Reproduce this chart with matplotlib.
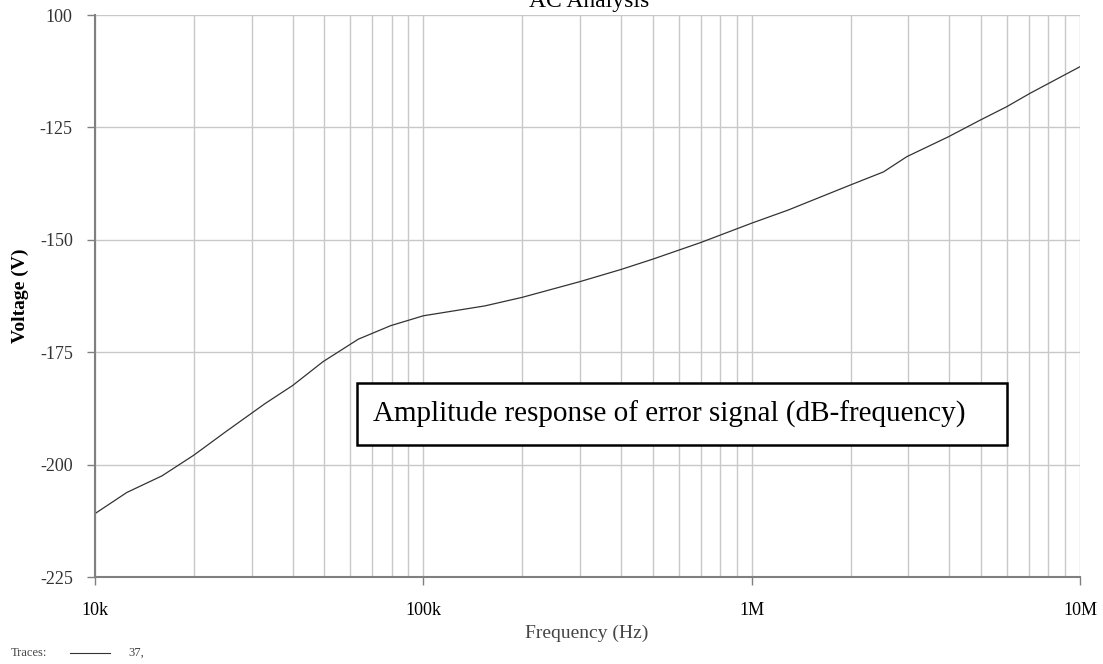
import numpy as np
import matplotlib.pyplot as plt
from matplotlib.ticker import FixedLocator, LogLocator, NullFormatter

# error signal magnitude vs frequency
freq = [10e3, 12.5e3, 16e3, 20e3, 25e3, 33e3, 40e3, 49.5e3, 63.4e3, 79.5e3,
        100e3, 154e3, 200e3, 300e3, 400e3, 500e3, 700e3, 1e6, 1.29e6, 2e6,
        2.52e6, 2.97e6, 3.97e6, 4.96e6, 5.98e6, 7.05e6, 10e6]
volt = [-210.9, -206.2, -202.5, -197.9, -192.7, -186.4, -182.4, -177.1, -172.1, -169.1,
        -166.9, -164.7, -162.8, -159.3, -156.6, -154.3, -150.6, -146.3, -143.4, -137.8,
        -134.9, -131.5, -127.1, -123.4, -120.4, -117.4, -111.5]

y_ticks = [-100, -125, -150, -175, -200, -225]
y_labels = ['100', '-125', '-150', '-175', '-200', '-225']
x_ticks = [1e4, 1e5, 1e6, 1e7]
x_labels = ['10k', '100k', '1M', '10M']

serif = 'Liberation Serif'
grid_c = '#c8c8c8'

fig = plt.figure(figsize=(11.03, 6.64), dpi=100)
ax = fig.add_axes([95/1103, 1-577/664, 985/1103, 562/664])

ax.plot(freq, volt, color='#333333', lw=0.9)
ax.set_xscale('log')
ax.set_xlim(1e4, 1e7)
ax.set_ylim(-225, -100)

ax.xaxis.set_major_locator(FixedLocator(x_ticks))
ax.xaxis.set_minor_locator(LogLocator(base=10, subs=np.arange(2, 10)))
ax.xaxis.set_minor_formatter(NullFormatter())
ax.set_xticks(x_ticks)
ax.set_xticklabels(x_labels, fontfamily=serif, fontsize=13)
ax.set_yticks(y_ticks)
ax.set_yticklabels(y_labels, fontfamily=serif, fontsize=13, color='#333333')

ax.grid(True, which='major', color=grid_c, lw=1.0)
ax.grid(True, which='minor', axis='x', color=grid_c, lw=1.0)
ax.tick_params(axis='both', which='major', length=6, width=1, color='#808080', pad=10)
ax.tick_params(axis='x', which='minor', length=0)
ax.tick_params(axis='x', pad=12)

for side in ['top', 'right']:
    ax.spines[side].set_visible(False)
for side in ['left', 'bottom']:
    ax.spines[side].set_color('#808080')
    ax.spines[side].set_linewidth(1.5)

ax.set_ylabel('Voltage (V)', fontfamily=serif, fontsize=14, fontweight='bold', labelpad=8)
fig.text(587/1103, 1-633/664, 'Frequency (Hz)', fontfamily=serif, fontsize=14,
         color='#444444', ha='center', va='center')
fig.text(589/1103, 1-1/664, 'AC Analysis', fontfamily=serif, fontsize=17,
         ha='center', va='center')

# trace legend line
fig.text(11/1103, 1-653/664, 'Traces:', fontfamily=serif, fontsize=9, color='#444444', va='center')
fig.add_artist(plt.Line2D([70/1103, 110/1103], [1-653/664, 1-653/664], color='#333333', lw=0.8))
fig.text(128/1103, 1-653/664, '37,', fontfamily=serif, fontsize=9, color='#444444', va='center')

# caption box inside the plot
box_x0 = (357-95)/985
box_y0 = (577-445)/562
ax.add_patch(plt.Rectangle((box_x0, box_y0), 650/985, 62/562, transform=ax.transAxes,
                           facecolor='white', edgecolor='black', lw=1.8, zorder=5))
ax.text((373-95)/985, box_y0 + 31/562, 'Amplitude response of error signal (dB-frequency)',
        transform=ax.transAxes, fontfamily=serif, fontsize=21, va='center', ha='left', zorder=6)

fig.savefig('out.png', dpi=100)
